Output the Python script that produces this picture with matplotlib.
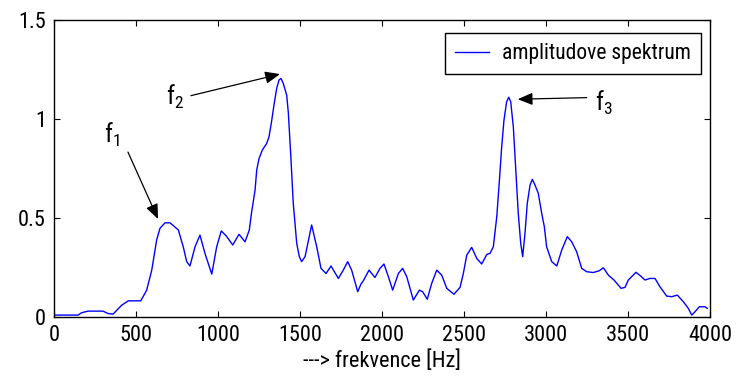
import matplotlib
matplotlib.use('Agg')
from matplotlib import pyplot as plt
from matplotlib import font_manager

# amplitude spectrum
freq = [0, 146, 169, 207, 299, 329, 360, 413, 453, 529, 565, 596, 626, 646, 677, 707,
        758, 788, 809, 829, 860, 890, 921, 962, 992, 1020, 1050, 1090, 1128, 1165, 1191,
        1205, 1226, 1236, 1250, 1270, 1297, 1311, 1328, 1343, 1358, 1372, 1384, 1398,
        1419, 1429, 1443, 1459, 1480, 1496, 1510, 1531, 1571, 1602, 1628, 1659, 1689,
        1734, 1764, 1791, 1815, 1852, 1872, 1886, 1921, 1957, 1988, 2012, 2039, 2065,
        2100, 2126, 2151, 2191, 2228, 2248, 2276, 2303, 2334, 2364, 2395, 2439, 2476,
        2496, 2517, 2547, 2578, 2608, 2639, 2659, 2679, 2700, 2716, 2730, 2744, 2760,
        2773, 2785, 2801, 2815, 2831, 2846, 2858, 2872, 2886, 2903, 2917, 2933, 2953,
        2974, 2990, 3004, 3035, 3066, 3096, 3130, 3157, 3187, 3218, 3248, 3289, 3325,
        3350, 3380, 3415, 3458, 3482, 3502, 3549, 3578, 3604, 3634, 3665, 3695, 3736,
        3767, 3801, 3838, 3868, 3889, 3909, 3935, 3970, 3984]
amp = [0.01, 0.01, 0.022, 0.03, 0.03, 0.018, 0.015, 0.06, 0.082, 0.082, 0.136, 0.237,
       0.39, 0.448, 0.476, 0.476, 0.44, 0.355, 0.28, 0.258, 0.355, 0.414, 0.32, 0.217,
       0.355, 0.435, 0.41, 0.364, 0.418, 0.38, 0.44,
       0.53, 0.641, 0.742, 0.80, 0.843, 0.877, 0.91, 0.995, 1.08, 1.155, 1.197, 1.205,
       1.18, 1.12, 1.03, 0.827, 0.574, 0.372, 0.305, 0.28, 0.305, 0.465, 0.355, 0.246,
       0.22, 0.258, 0.195, 0.237, 0.28, 0.237, 0.128, 0.167, 0.183, 0.237, 0.2, 0.246,
       0.268, 0.204, 0.136, 0.22, 0.246, 0.204, 0.086, 0.136, 0.128, 0.09, 0.17, 0.237,
       0.212, 0.145, 0.115, 0.15, 0.22, 0.313, 0.352, 0.296, 0.268, 0.316, 0.322, 0.355,
       0.507, 0.69, 0.86, 0.995, 1.087, 1.11, 1.087, 0.96, 0.76, 0.524, 0.372, 0.305,
       0.423, 0.574, 0.667, 0.695, 0.667, 0.625, 0.524, 0.456, 0.355, 0.28, 0.258,
       0.338, 0.406, 0.38, 0.33, 0.246, 0.229, 0.225, 0.234, 0.249, 0.212, 0.187,
       0.145, 0.15, 0.187, 0.226, 0.207, 0.187, 0.195, 0.195, 0.153, 0.106, 0.103,
       0.111, 0.077, 0.044, 0.01, 0.027, 0.052, 0.052, 0.044]

xticks = [0, 500, 1000, 1500, 2000, 2500, 3000, 3500, 4000]
yticks = [0, 0.5, 1, 1.5]
ytick_labels = ['0', '0.5', '1', '1.5']

# peak labels: (label, arrow start, arrow tip, label position)
peaks = [
    ('f_1', (451, 0.833), (634, 0.495), (350, 0.92)),
    ('f_2', (835, 1.118), (1378, 1.227), (735, 1.11)),
    ('f_3', (3248, 1.108), (2828, 1.10), (3350, 1.08)),
]

names = {f.name for f in font_manager.fontManager.ttflist}
family = 'Roboto Condensed' if 'Roboto Condensed' in names else 'Liberation Sans'
plt.rcParams['font.family'] = [family, 'DejaVu Sans']
plt.rcParams['mathtext.fontset'] = 'custom'
plt.rcParams['mathtext.rm'] = family
plt.rcParams['font.size'] = 16

fig = plt.figure(figsize=(7.38, 3.90), dpi=100)
ax = fig.add_axes([0.0732, 0.187, 0.8888, 0.7617])
ax.plot(freq, amp, color='#0000ff', lw=1.0, solid_joinstyle='round',
        label='amplitudove spektrum')

ax.set_xlim(0, 4000)
ax.set_ylim(0, 1.5)
ax.set_xticks(xticks)
ax.set_yticks(yticks)
ax.set_yticklabels(ytick_labels)
ax.tick_params(direction='in', length=4.5, width=0.8, top=True, right=True, pad=6)
for s in ax.spines.values():
    s.set_linewidth(1.0)

ax.set_xlabel('---> frekvence [Hz]', labelpad=3)

for label, start, tip, pos in peaks:
    ax.annotate('', xy=tip, xytext=start,
                arrowprops=dict(arrowstyle='-|>,head_length=0.6,head_width=0.25',
                                color='k', lw=0.9, mutation_scale=15,
                                shrinkA=0, shrinkB=0))
    ax.text(pos[0], pos[1], r'$\mathregular{' + label + '}$',
            fontsize=18, ha='center', va='center')

leg = ax.legend(loc='upper right', bbox_to_anchor=(0.986, 0.955), fancybox=False,
                framealpha=1, edgecolor='k', handlelength=1.6, borderpad=0.45,
                handletextpad=0.6, borderaxespad=0, fontsize=15.5)
leg.get_frame().set_linewidth(1.0)

plt.savefig('out.png', dpi=100)
